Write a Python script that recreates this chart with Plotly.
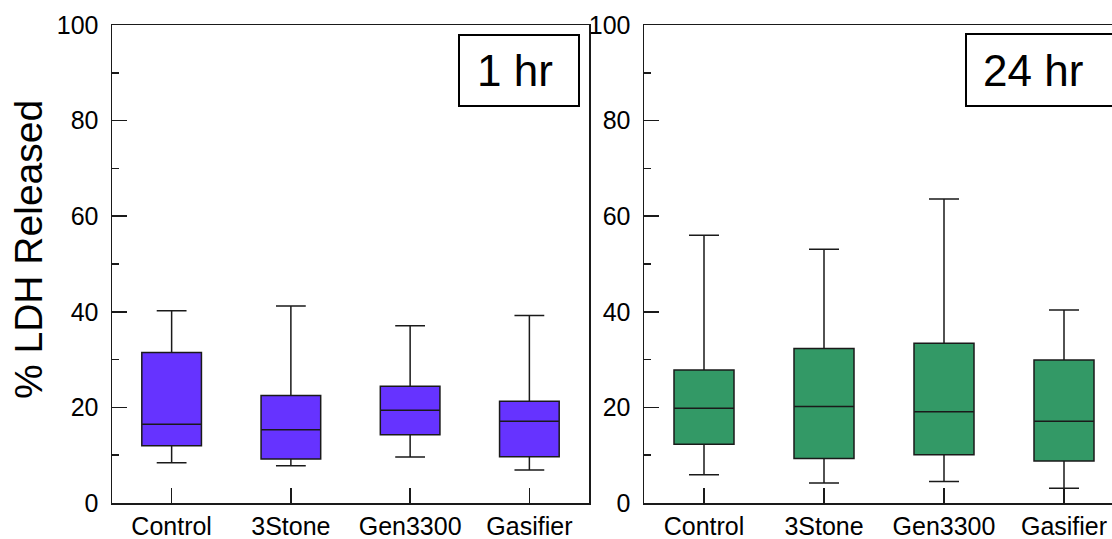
import plotly.graph_objects as go

categories = ["Control", "3Stone", "Gen3300", "Gasifier"]

# 1 hr panel
h1_lower = [8.4, 7.8, 9.6, 6.9]
h1_q1 = [12.0, 9.2, 14.3, 9.7]
h1_median = [16.5, 15.3, 19.4, 17.1]
h1_q3 = [31.5, 22.5, 24.4, 21.3]
h1_upper = [40.2, 41.2, 37.1, 39.2]

# 24 hr panel
h24_lower = [5.9, 4.2, 4.5, 3.1]
h24_q1 = [12.3, 9.3, 10.1, 8.8]
h24_median = [19.8, 20.2, 19.1, 17.1]
h24_q3 = [27.8, 32.3, 33.4, 29.9]
h24_upper = [56.0, 53.1, 63.6, 40.4]

y_ticks = [0, 20, 40, 60, 80, 100]
panel_labels = ["1 hr", "24 hr"]
y_title = "% LDH Released"

W, H = 1112, 539
FONT = "Liberation Sans, Arial, sans-serif"
LINE = "#1a1a1a"

def px_x(p):
    return p / W

def px_y(p):
    return 1 - p / H

fig = go.Figure()

fig.add_trace(go.Box(
    x=categories, q1=h1_q1, median=h1_median, q3=h1_q3,
    lowerfence=h1_lower, upperfence=h1_upper,
    fillcolor="#6633FF", line=dict(color=LINE, width=1.5),
    width=0.5, whiskerwidth=0.5, boxpoints=False,
    xaxis="x", yaxis="y", showlegend=False, hoverinfo="skip"))

fig.add_trace(go.Box(
    x=categories, q1=h24_q1, median=h24_median, q3=h24_q3,
    lowerfence=h24_lower, upperfence=h24_upper,
    fillcolor="#339966", line=dict(color=LINE, width=1.5),
    width=0.5, whiskerwidth=0.5, boxpoints=False,
    xaxis="x2", yaxis="y2", showlegend=False, hoverinfo="skip"))

ydom = [px_y(503), px_y(25)]

xcommon = dict(
    type="category", categoryorder="array", categoryarray=categories,
    showline=True, linecolor=LINE, linewidth=1.5, mirror=True,
    ticks="inside", ticklen=15, tickcolor=LINE, tickwidth=1.5,
    showgrid=False, zeroline=False, automargin=False, ticklabelstandoff=0,
    ticklabeloverflow="allow",
    tickfont=dict(family=FONT, size=25, color="black"),
)
ycommon = dict(
    range=[0, 100], tickvals=y_ticks,
    showline=True, linecolor=LINE, linewidth=1.5,
    ticks="inside", ticklen=15, tickcolor=LINE, tickwidth=1.5,
    minor=dict(dtick=10, ticks="inside", ticklen=7, tickcolor=LINE, tickwidth=1.5),
    showgrid=False, zeroline=False, ticklabelstandoff=7, automargin=False,
    tickfont=dict(family=FONT, size=25, color="black"),
    domain=ydom,
)

fig.update_layout(
    template="none",
    width=W, height=H,
    margin=dict(l=0, r=0, t=0, b=0, pad=0, autoexpand=False),
    paper_bgcolor="white", plot_bgcolor="white",
    xaxis=dict(**xcommon, domain=[px_x(112), px_x(589)], range=[-0.5, 3.5], anchor="y"),
    yaxis=dict(**ycommon, mirror=True, anchor="x"),
    xaxis2=dict(**xcommon, domain=[px_x(644), 1.0], range=[-0.5, 3.4], anchor="y2"),
    yaxis2=dict(**ycommon, mirror=False, anchor="x2"),
    boxgap=0, boxgroupgap=0,
)

# panel label boxes
fig.add_shape(type="rect", xref="paper", yref="paper",
              x0=px_x(459), x1=px_x(579), y0=px_y(106), y1=px_y(35),
              line=dict(color="black", width=2), fillcolor="white")
fig.add_shape(type="rect", xref="paper", yref="paper",
              x0=px_x(966), x1=px_x(1135), y0=px_y(106), y1=px_y(34),
              line=dict(color="black", width=2), fillcolor="white")

fig.add_annotation(text=panel_labels[0], xref="paper", yref="paper",
                   x=px_x(515), y=px_y(71), showarrow=False,
                   xanchor="center", yanchor="middle",
                   font=dict(family=FONT, size=44, color="black"))
fig.add_annotation(text=panel_labels[1], xref="paper", yref="paper",
                   x=px_x(1033), y=px_y(71), showarrow=False,
                   xanchor="center", yanchor="middle",
                   font=dict(family=FONT, size=44, color="black"))

fig.add_annotation(text=y_title, xref="paper", yref="paper",
                   x=px_x(28), y=px_y(250), showarrow=False, textangle=-90,
                   xanchor="center", yanchor="middle",
                   font=dict(family=FONT, size=39, color="black"))

fig.write_html(
    "out.html",
    config={"displayModeBar": False, "staticPlot": True},
    post_script="document.body.style.margin='0';document.body.style.overflow='hidden';",
)
